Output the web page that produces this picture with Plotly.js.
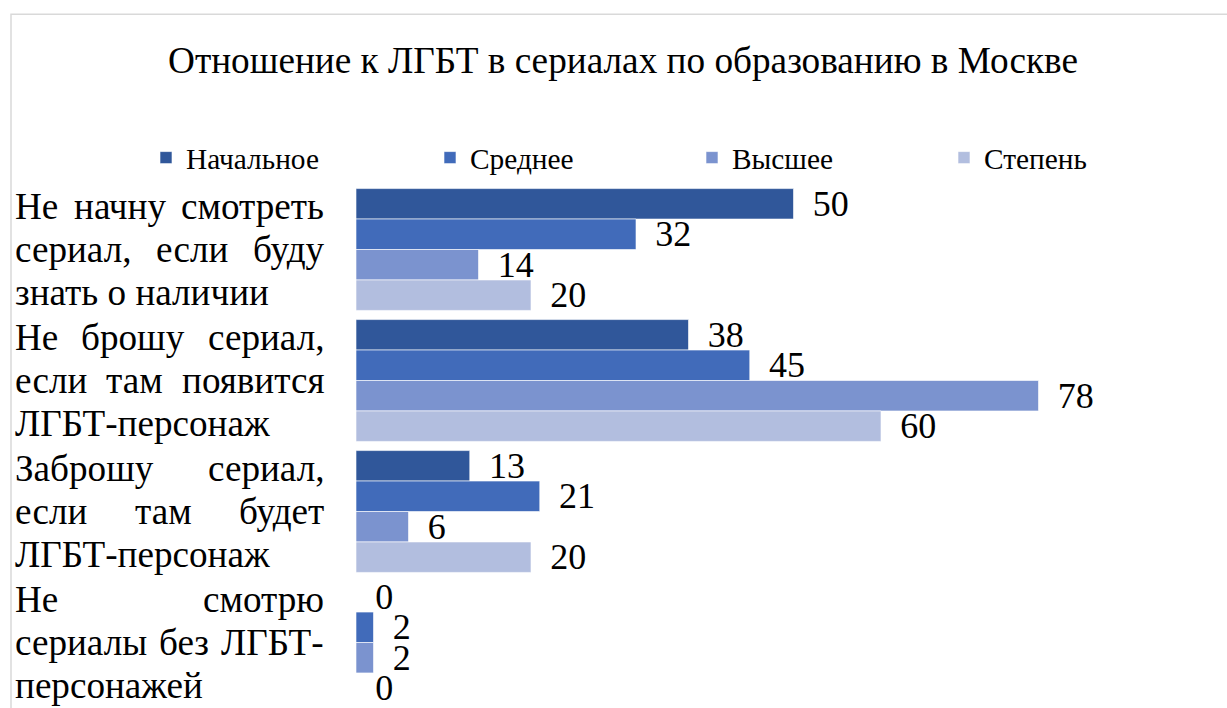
<!DOCTYPE html>
<html>
<head>
<meta charset="utf-8">
<script src="https://cdn.plot.ly/plotly-3.0.1.min.js"></script>
<style>html,body{margin:0;padding:0;background:#fff;}#chart{width:1227px;height:708px;}</style>
</head>
<body>
<div id="chart"></div>
<script>
// ---- data ----
const titleText = "Отношение к ЛГБТ в сериалах по образованию в Москве";
const categories = [
  "Не начну смотреть сериал, если буду знать о наличии",
  "Не брошу сериал, если там появится ЛГБТ-персонаж",
  "Заброшу сериал, если там будет ЛГБТ-персонаж",
  "Не смотрю сериалы без ЛГБТ-персонажей"
];
const categoryLines = [
  ["Не начну смотреть", "сериал, если буду", "знать о наличии"],
  ["Не брошу сериал,", "если там появится", "ЛГБТ-персонаж"],
  ["Заброшу сериал,", "если там будет", "ЛГБТ-персонаж"],
  ["Не смотрю", "сериалы без ЛГБТ-", "персонажей"]
];
const seriesNames = ["Начальное", "Среднее", "Высшее", "Степень"];
const nachalnoe = [50, 38, 13, 0];
const srednee   = [32, 45, 21, 2];
const vysshee   = [14, 78, 6, 2];
const stepen    = [20, 60, 20, 0];
const seriesValues = [nachalnoe, srednee, vysshee, stepen];
const seriesColors = ["#30579A", "#416BBA", "#7B93CF", "#B2BEDF"];

// ---- layout geometry ----
const W = 1227, H = 708;
const plotL = 356, plotR = 1227, plotT = 183, plotB = 708;
const pxPerUnit = 8.75;
const xMax = (plotR - plotL) / pxPerUnit;
const FONT = 'Liberation Serif, Times New Roman, serif';

const ctx = document.createElement('canvas').getContext('2d');
function tw(text, size) { ctx.font = size + 'px "Liberation Serif", serif'; return ctx.measureText(text).width; }
function fitSize(text, target) { return 100 * target / tw(text, 100); }

const titleSize = fitSize(titleText, 910);
const labelSize = fitSize("знать о наличии", 254);
const valueSize = fitSize("50", 36);
const legendSize = fitSize("Начальное", 133);

function px2paperX(px) { return (px - plotL) / (plotR - plotL); }

// ---- category label annotations (justified) ----
const annotations = [];
const textLeft = 14, textRight = 323, lineGap = 43;
categoryLines.forEach((lines, ci) => {
  lines.forEach((line, li) => {
    const yshift = -(li - (lines.length - 1) / 2) * lineGap;
    const words = line.split(' ');
    const isLast = li === lines.length - 1;
    if (isLast || words.length === 1) {
      annotations.push({xref: 'paper', yref: 'y', x: px2paperX(textLeft), y: categories[ci],
        xanchor: 'left', yanchor: 'middle', yshift: yshift, showarrow: false, text: line,
        borderpad: 0, font: {family: FONT, size: labelSize, color: '#000'}});
    } else {
      const widths = words.map(wd => tw(wd, labelSize));
      const sum = widths.reduce((a, b) => a + b, 0);
      const gap = (textRight - textLeft - sum) / (words.length - 1);
      let pos = textLeft;
      words.forEach((wd, wi) => {
        annotations.push({xref: 'paper', yref: 'y', x: px2paperX(pos), y: categories[ci],
          xanchor: 'left', yanchor: 'middle', yshift: yshift, showarrow: false, text: wd,
          borderpad: 0, font: {family: FONT, size: labelSize, color: '#000'}});
        pos += widths[wi] + gap;
      });
    }
  });
});

// ---- traces ----
const legendX = [166, 450, 712, 964];
const traces = seriesNames.map((name, i) => ({
  type: 'bar', orientation: 'h', name: name,
  y: categories, x: seriesValues[i],
  marker: {color: seriesColors[i], line: {color: '#ffffff', width: 0.6}},
  text: seriesValues[i].map(String),
  texttemplate: '\u00a0\u2009%{text}',
  textposition: 'outside', constraintext: 'none', cliponaxis: false,
  textfont: {family: FONT, size: valueSize, color: '#000'},
  legend: i === 0 ? 'legend' : 'legend' + (i + 1),
  hoverinfo: 'x+name'
}));

const layout = {
  width: W, height: H,
  margin: {l: plotL, r: W - plotR, t: plotT, b: H - plotB, pad: 0},
  paper_bgcolor: '#ffffff', plot_bgcolor: '#ffffff',
  barmode: 'group', bargap: 0.07, bargroupgap: 0,
  font: {family: FONT, color: '#000'},
  title: {text: titleText, x: 623 / W, y: 1 - 60 / H, xref: 'container', yref: 'container',
    xanchor: 'center', yanchor: 'middle', font: {family: FONT, size: titleSize, color: '#000'}},
  xaxis: {range: [0, xMax], showgrid: false, zeroline: false, showticklabels: false, showline: false, ticks: ''},
  yaxis: {autorange: 'reversed', showgrid: false, zeroline: false, showticklabels: false, showline: false, ticks: '', type: 'category'},
  annotations: annotations,
  shapes: [{type: 'rect', xref: 'paper', yref: 'paper',
    x0: px2paperX(11), x1: px2paperX(1300), y0: -0.5, y1: 1 + (plotT - 13) / (plotB - plotT),
    line: {color: '#D9D9D9', width: 1.5}, fillcolor: 'rgba(0,0,0,0)', layer: 'below'}]
};
legendX.forEach((lx, i) => {
  const key = i === 0 ? 'legend' : 'legend' + (i + 1);
  layout[key] = {x: (lx - 20) / W, y: 1 - 158 / H, xref: 'container', yref: 'container',
    xanchor: 'left', yanchor: 'middle', orientation: 'h', bgcolor: 'rgba(0,0,0,0)',
    borderwidth: 0, font: {family: FONT, size: legendSize, color: '#000'}};
});
layout.showlegend = true;

Plotly.newPlot('chart', traces, layout, {displayModeBar: false, staticPlot: true});
</script>
</body>
</html>
